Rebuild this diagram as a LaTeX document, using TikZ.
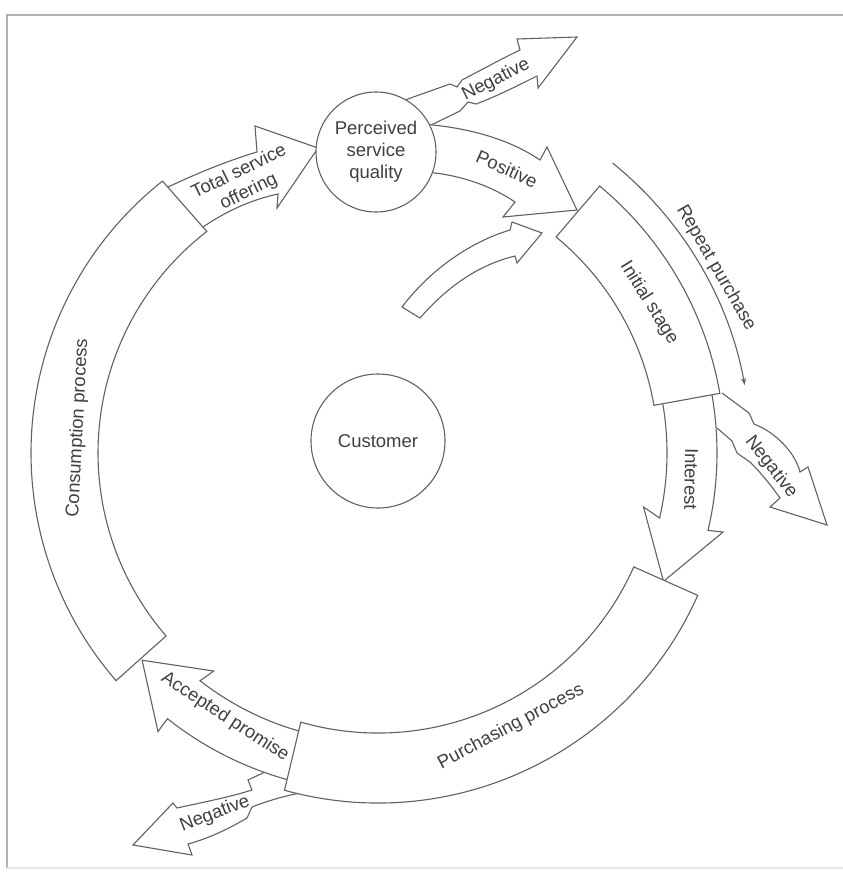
\documentclass[tikz,border=0pt]{standalone}
\usepackage{fontspec}
\setmainfont{Liberation Sans}
\usetikzlibrary{arrows.meta}
\begin{document}
\begin{tikzpicture}[x=1pt,y=-1pt,
  shapeline/.style={draw=black!62, line width=1.1pt, line join=miter, fill=white},
  lbl/.style={font=\fontsize{18.5}{22}\selectfont, text=black!75, inner sep=0pt, align=center}]
\useasboundingbox (0,0) rectangle (843,873);
\fill[white] (0,0) rectangle (843,873);
% frame
\draw[black!30, line width=2.2pt] (7,868) -- (7,15) -- (843,15);
\draw[black!10, line width=1.5pt] (7,868) -- (843,868);

\coordinate (C) at (378,453);

% wavy "Negative" arrows
\draw[shapeline] (722,393) -- (749,413) -- (754,424) .. controls (775,432) and (795,452) .. (800,472) -- (808,467) -- (827,525) -- (770,507) -- (780,498) .. controls (770,484) and (760,472) .. (750,462) -- (737,453) -- (732,441) -- (717,428);
\draw[shapeline] (405,100) -- (450,84) -- (457,87) -- (462,80) .. controls (485,68) and (505,57) .. (520,50) -- (517,39) -- (577,37) -- (538,88) -- (537,76) .. controls (515,87) and (495,97) .. (476,104) -- (468,102) -- (460,111) -- (425,128);
\draw[shapeline] (265,772) -- (248,780) -- (252,790) .. controls (230,797) and (200,803) .. (177,808) -- (173,803) -- (133,845) -- (192,855) -- (188,844) .. controls (210,838) and (230,828) .. (247,818) -- (252,807) .. controls (270,800) and (285,796) .. (300,793);

% Positive arrow
\draw[shapeline] (425,124) -- (433,125) .. controls (480,130) and (515,143) .. (540,160) -- (547,147) -- (577,210) -- (503,217) -- (515,202) .. controls (490,185) and (460,176) .. (435,173) -- (425,172);
% Total service offering arrow
\draw[shapeline] (168,187) .. controls (200,172) and (230,160) .. (257,152) -- (255,126) -- (318,148) -- (277,208) -- (278,194) .. controls (250,200) and (225,212) .. (203,227);
% small curved arrow
\draw[shapeline] (402,307) .. controls (430,270) and (470,242) .. (510,230) -- (512,222) -- (542,233) -- (517,263) -- (515,256) .. controls (478,265) and (447,287) .. (420,318) -- cycle;

\begin{scope}[shift={(C)}, yscale=-1]
  % Interest arrow
  \draw[shapeline] (12:289) arc[start angle=12,end angle=-13,radius=289] -- (-11.5:271) -- (-24.2:313) -- (-12.9:354) -- (-13.2:339) arc[start angle=-13.2,end angle=12,radius=339];
  % Accepted promise arrow
  \draw[shapeline] (256:289) arc[start angle=256,end angle=232,radius=289] -- (233:273) -- (221.3:314) -- (231.7:355) -- (231.6:339) arc[start angle=231.6,end angle=256,radius=339];
  % Initial stage box
  \draw[shapeline] (50.5:280) -- (50.3:347) arc[start angle=50.3,end angle=9.9,radius=347] -- (9.8:280) arc[start angle=9.8,end angle=50.5,radius=280] -- cycle;
  % Purchasing process box
  \draw[shapeline] (-24:280) -- (-24:350) arc[start angle=-24,end angle=-105.5,radius=350] -- (-106:280) arc[start angle=-106,end angle=-24,radius=280] -- cycle;
  % Consumption process box
  \draw[shapeline] (127.7:280) -- (128.4:347) arc[start angle=128.4,end angle=221,radius=347] -- (220.8:280) arc[start angle=220.8,end angle=127.7,radius=280] -- cycle;
  % Repeat purchase
  \draw[draw=black!62, line width=1.1pt, -{Stealth[length=7pt,width=5pt]}] (51:373) arc[start angle=51,end angle=10.5,radius=373];
\end{scope}

% circles
\node[circle, draw=black!62, line width=1.1pt, fill=white, minimum size=120pt, lbl] (psq) at (376,152) {Perceived\\service\\quality};
\node[circle, draw=black!62, line width=1.1pt, fill=white, minimum size=134pt, lbl] (cust) at (378,441) {Customer};

% labels
\node[lbl, rotate=26] (tso) at (244,182) {Total service\\offering};
\node[lbl, rotate=27] (neg1) at (496,80) {Negative};
\node[lbl, rotate=-24] (pos) at (507,169) {Positive};
\node[lbl, rotate=-58] (init) at (649,303) {Initial stage};
\node[lbl, rotate=-60] (rep) at (716,268) {Repeat purchase};
\node[lbl, rotate=-91] (int) at (691,479) {Interest};
\node[lbl, rotate=-52] (neg2) at (771,467) {Negative};
\node[lbl, rotate=28] (pur) at (511,727) {Purchasing process};
\node[lbl, rotate=-33] (acc) at (225,717) {Accepted promise};
\node[lbl, rotate=21] (neg3) at (215,814) {Negative};
\node[lbl, rotate=87] (con) at (78,428) {Consumption process};
\end{tikzpicture}
\end{document}
